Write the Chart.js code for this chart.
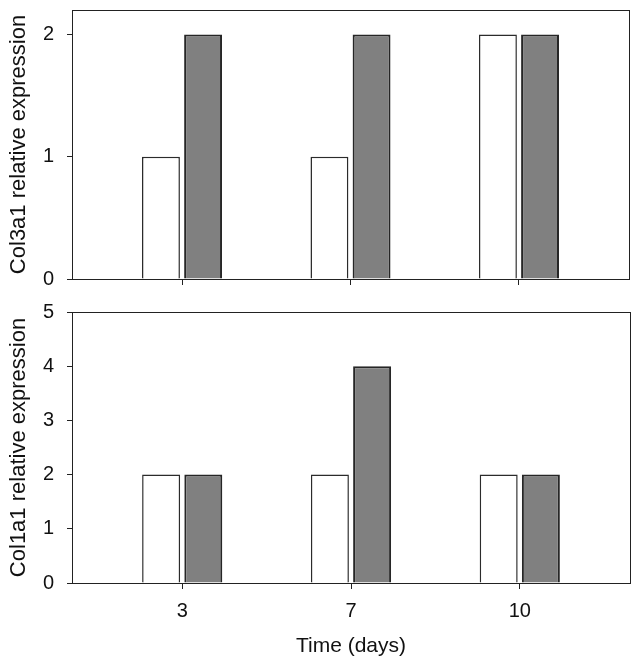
<!DOCTYPE html>
<html>
<head>
<meta charset="utf-8">
<script src="https://cdn.jsdelivr.net/npm/chart.js@4/dist/chart.umd.min.js"></script>
<style>
  html, body { margin: 0; padding: 0; background: #fff; }
  #wrap { position: relative; width: 641px; height: 667px; }
  .panel { position: absolute; left: 0; }
</style>
</head>
<body>
<div id="wrap">
  <div class="panel" style="top:0"><canvas id="top" width="641" height="300"></canvas></div>
  <div class="panel" style="top:290px"><canvas id="bottom" width="641" height="377"></canvas></div>
</div>
<script>
// dados
const days = ['3', '7', '10'];
const col3a1White = [1, 1, 2];
const col3a1Gray = [2, 2, 2];
const col1a1White = [2, 2, 2];
const col1a1Gray = [2, 4, 2];
const col3a1Ticks = [0, 1, 2];
const col1a1Ticks = [0, 1, 2, 3, 4, 5];

const FONT = "'Liberation Sans', Arial, sans-serif";
const dayPos = days.map((d, i) => i);

// moldura completa em volta da área do gráfico
const frame = {
  id: 'frame',
  afterDraw(chart) {
    const { ctx, chartArea: a } = chart;
    ctx.save();
    ctx.strokeStyle = '#222';
    ctx.lineWidth = 1;
    ctx.strokeRect(Math.round(a.left) + 0.5, Math.round(a.top) + 0.5,
      Math.round(a.right - a.left), Math.round(a.bottom - a.top));
    ctx.restore();
  }
};

function points(values) {
  return values.map((v, i) => ({ x: dayPos[i], y: v }));
}

function makePanel(canvasId, white, gray, yTicks, yMax, yTitle, showX, pad, xHeight) {
  return new Chart(document.getElementById(canvasId).getContext('2d'), {
    type: 'bar',
    data: {
      datasets: [{
        data: points(white),
        backgroundColor: '#ffffff',
        borderColor: '#2b2b2b',
        borderWidth: 1.5,
        categoryPercentage: 0.5,
        barPercentage: 0.9
      }, {
        data: points(gray),
        backgroundColor: '#808080',
        borderColor: '#262626',
        borderWidth: 2,
        categoryPercentage: 0.5,
        barPercentage: 0.9
      }]
    },
    options: {
      responsive: false,
      animation: false,
      layout: { padding: pad },
      plugins: { legend: { display: false }, tooltip: { enabled: false } },
      scales: {
        x: {
          type: 'linear',
          offset: false,
          min: -0.653,
          max: 2.653,
          afterBuildTicks: s => { s.ticks = dayPos.map(v => ({ value: v })); },
          afterFit: s => { s.height = xHeight; s.paddingLeft = 0; s.paddingRight = 0; },
          grid: { display: true, offset: false, drawOnChartArea: false, drawTicks: true, tickLength: 6, color: '#222' },
          border: { display: true, color: '#222' },
          ticks: {
            padding: 10,
            color: '#111',
            font: { family: FONT, size: 20 },
            callback: (v) => showX ? days[v] : ''
          },
          title: {
            display: showX,
            text: 'Time (days)',
            color: '#111',
            font: { family: FONT, size: 21 },
            padding: { top: 0, bottom: 8 }
          }
        },
        y: {
          min: 0,
          max: yMax,
          afterBuildTicks: s => { s.ticks = yTicks.map(v => ({ value: v })); },
          afterFit: s => { s.width = 72; s.paddingTop = 0; s.paddingBottom = 0; },
          grid: { display: true, drawOnChartArea: false, drawTicks: true, tickLength: 5, color: '#222' },
          border: { display: true, color: '#222' },
          ticks: {
            padding: 13,
            color: '#111',
            font: { family: FONT, size: 20 }
          },
          title: {
            display: true,
            text: yTitle,
            color: '#111',
            font: { family: FONT, size: 22 },
            padding: { top: 6, bottom: 0 }
          }
        }
      }
    },
    plugins: [frame]
  });
}

makePanel('top', col3a1White, col3a1Gray, col3a1Ticks, 2.2, 'Col3a1 relative expression', false,
  { top: 10, right: 12, left: 0, bottom: 0 }, 21);
makePanel('bottom', col1a1White, col1a1Gray, col1a1Ticks, 5, 'Col1a1 relative expression', true,
  { top: 22, right: 11, left: 0, bottom: 0 }, 84);
</script>
</body>
</html>
